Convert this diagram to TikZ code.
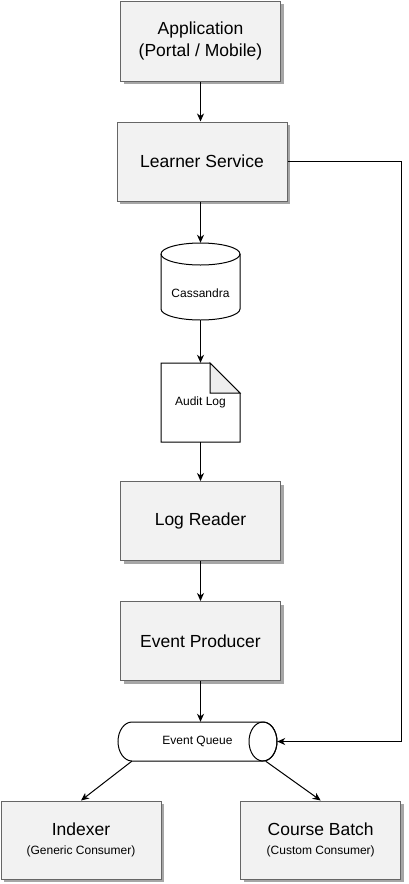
\documentclass[tikz,border=0pt]{standalone}
\usepackage{fontspec}
\setmainfont{Liberation Sans}
\usetikzlibrary{arrows.meta,shadows}
\definecolor{boxfill}{HTML}{F2F2F2}
\definecolor{boxline}{HTML}{666666}
\definecolor{foldfill}{HTML}{EEEEEE}
\begin{document}
\begin{tikzpicture}[x=1pt,y=-1pt,
  box/.style={draw=boxline, fill=boxfill, line width=1pt, align=center, inner sep=0pt,
    font=\fontsize{17.5}{22}\selectfont,
    general shadow={fill=black!35, shadow xshift=3pt, shadow yshift=-3pt}},
  small/.style={font=\fontsize{12}{14}\selectfont},
  ghost/.style={inner sep=0pt, align=center},
  shapeline/.style={draw=black, line width=1pt},
  conn/.style={draw=black, line width=1pt, -{Stealth[length=8pt,width=7pt,inset=2.5pt]}}]
\useasboundingbox (0,0) rectangle (409,884);

% boxes
\node[box, minimum width=160, minimum height=80] (app) at (200.5,41)
  {Application\\(Portal / Mobile)};
\node[box, minimum width=170, minimum height=79] (ls) at (202,161.5) {Learner Service};
\node[box, minimum width=160, minimum height=79] (lr) at (200.5,521) {Log Reader};
\node[box, minimum width=160, minimum height=79] (ep) at (200.5,641) {Event Producer};
\node[box, minimum width=160, minimum height=78] (idx) at (81,840)
  {Indexer\\[-3pt]{\fontsize{12}{14}\selectfont (Generic Consumer)}};
\node[box, minimum width=160, minimum height=78] (cb) at (320.7,840)
  {Course Batch\\[-3pt]{\fontsize{12}{14}\selectfont (Custom Consumer)}};

% Cassandra cylinder
\filldraw[shapeline, fill=white] (161,254) -- (161,309)
  arc[start angle=180, end angle=0, x radius=39.5, y radius=11] -- (240,254)
  arc[start angle=0, end angle=-180, x radius=39.5, y radius=11] -- cycle;
\draw[shapeline] (161,254) arc[start angle=180, end angle=0, x radius=39.5, y radius=11];
\node[ghost, minimum width=79, minimum height=77] (cass) at (200.5,281.5) {};
\node[ghost, small] (casstxt) at (200.5,293) {Cassandra};

% Audit Log note
\filldraw[shapeline, fill=white] (161,363) -- (210,363) -- (240,393) -- (240,442) -- (161,442) -- cycle;
\filldraw[shapeline, fill=foldfill] (210,363) -- (210,393) -- (240,393) -- cycle;
\node[ghost, small, minimum width=79, minimum height=79] (audit) at (200.5,402.5) {Audit Log};

% Event Queue horizontal cylinder
\filldraw[shapeline, fill=white] (132,722) -- (263,722)
  arc[start angle=-90, end angle=90, x radius=14, y radius=19.5] -- (132,761)
  arc[start angle=90, end angle=270, x radius=14, y radius=19.5] -- cycle;
\draw[shapeline] (263,741.5) ellipse[x radius=14, y radius=19.5];
\node[ghost, small, minimum width=159, minimum height=39] (eq) at (197.5,741.5) {Event Queue};

% connectors
\coordinate (bend) at (401.5,161.5);
\coordinate (eqbl) at ([xshift=14pt]eq.south west);
\coordinate (eqbr) at ([xshift=-11.5pt]eq.south east);
\draw[conn] (app.south) -- (app.south |- ls.north);
\draw[conn] (ls.south -| cass.north) -- (cass.north);
\draw[conn] (cass.south) -- (audit.north);
\draw[conn] (audit.south) -- (lr.north);
\draw[conn] (lr.south) -- (ep.north);
\draw[conn] (ep.south) -- (ep.south |- eq.north);
\draw[conn] (ls.east) -- (bend) |- (eq.east);
\draw[conn] (eqbl) -- (idx.north);
\draw[conn] (eqbr) -- (cb.north);
\end{tikzpicture}
\end{document}
